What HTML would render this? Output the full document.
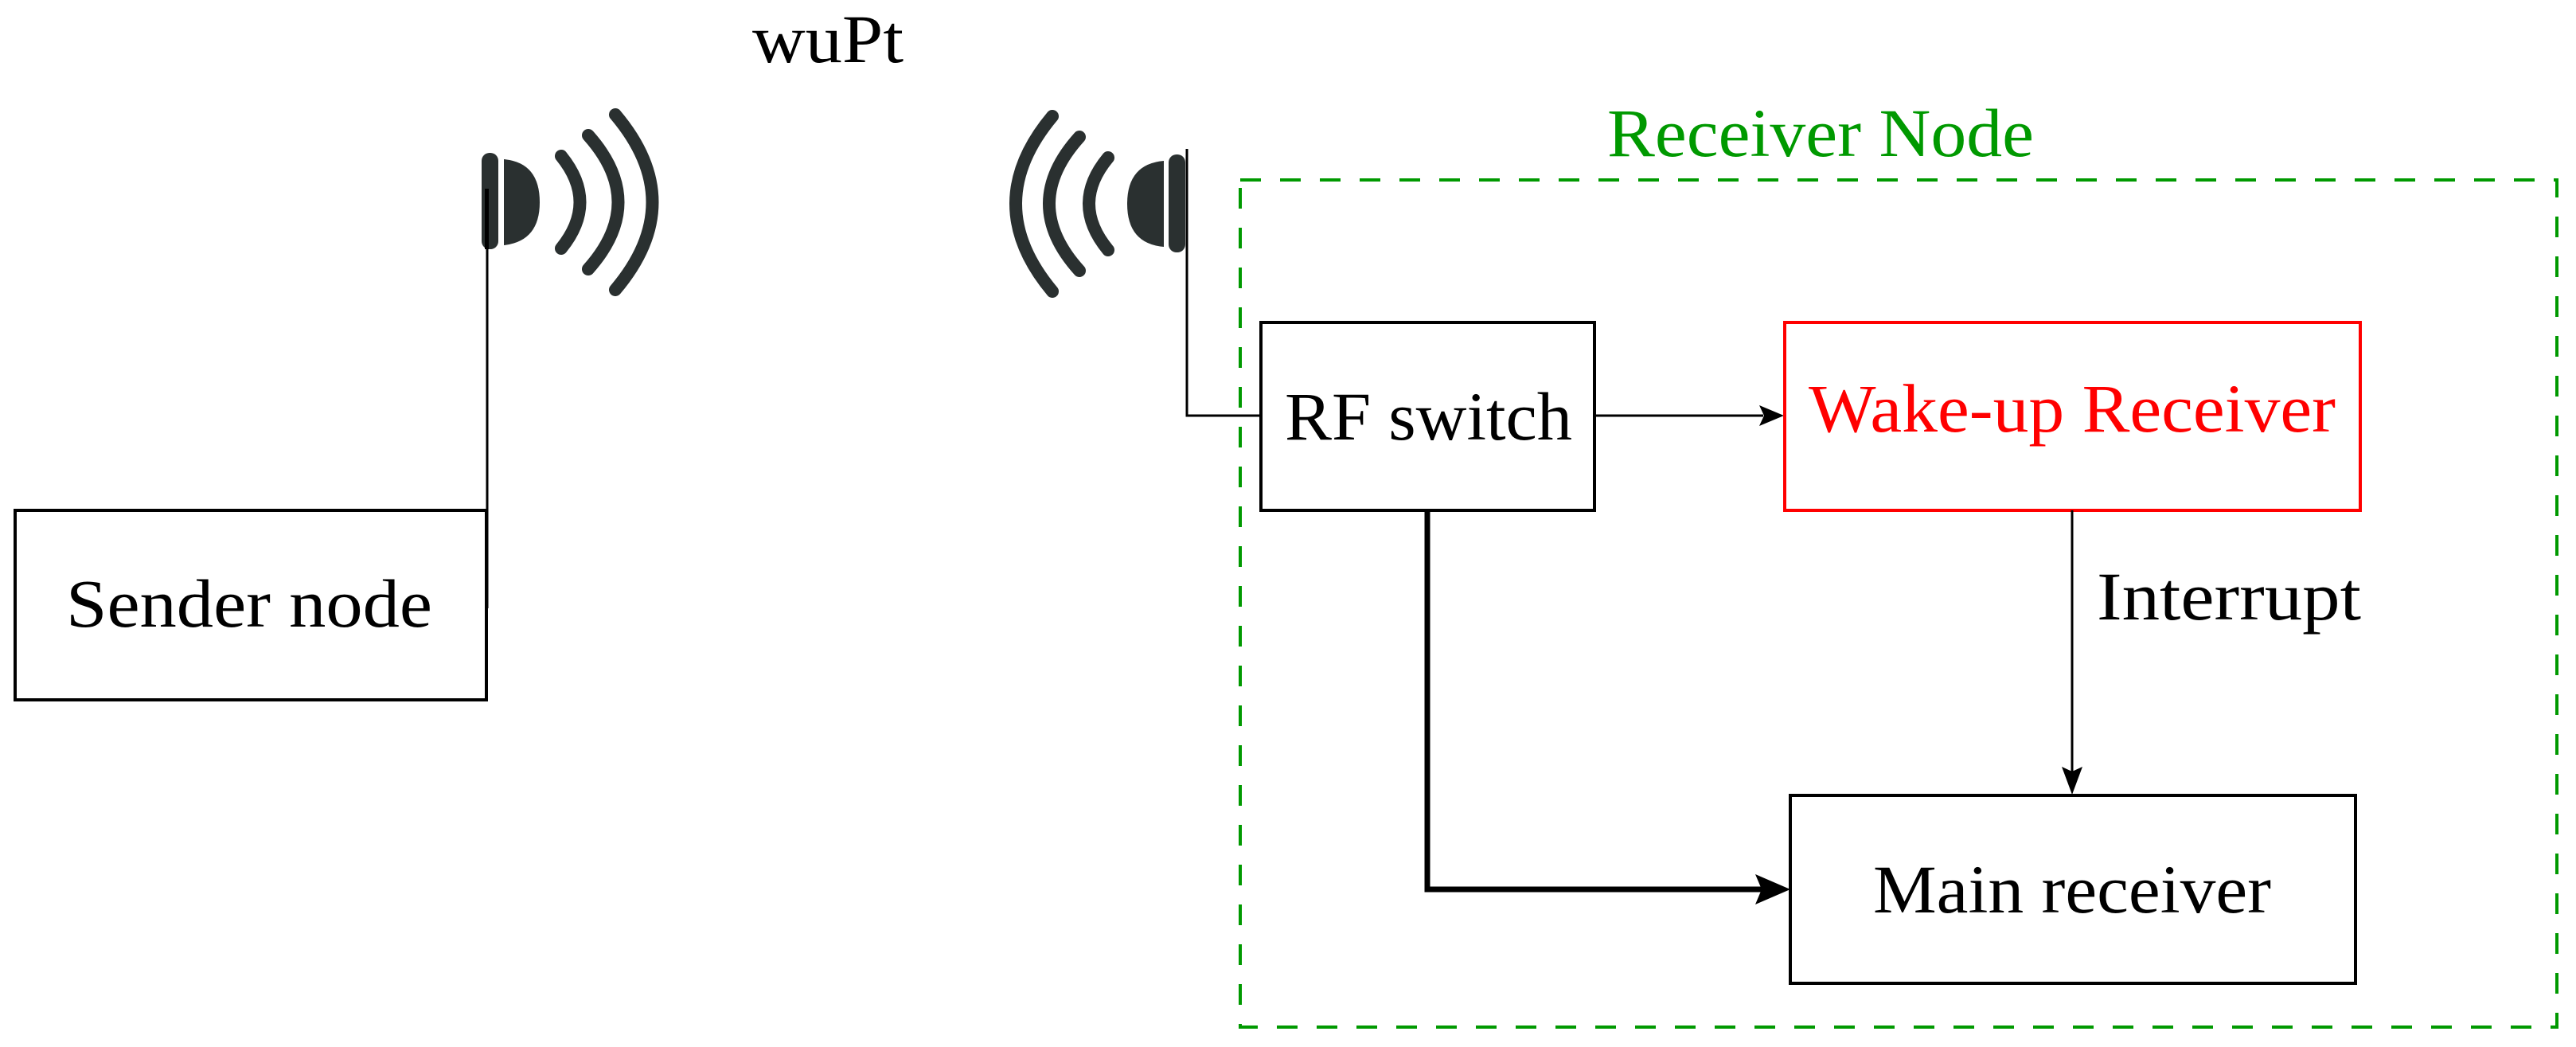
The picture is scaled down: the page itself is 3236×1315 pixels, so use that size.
<!DOCTYPE html>
<html><head><meta charset="utf-8"><style>
html,body{margin:0;padding:0;background:#fff;}
svg{display:block;}
text{font-family:"Liberation Serif",serif;}
</style></head><body>
<svg width="3236" height="1315" viewBox="0 0 3236 1315" xmlns="http://www.w3.org/2000/svg">
<!-- Sender node -->
<rect x="19" y="641" width="592" height="238" fill="none" stroke="#000" stroke-width="4"/>
<text x="83" y="787" font-size="86" textLength="460" lengthAdjust="spacingAndGlyphs">Sender node</text>
<line x1="612" y1="237" x2="612" y2="764" stroke="#000" stroke-width="3"/>
<!-- left antenna -->
<g fill="#2a3030" stroke="none">
<rect x="605" y="192" width="21" height="121" rx="10"/>
<path d="M633 200 Q678 204 678 254 Q678 303 633 308 Z"/>
</g>
<rect x="609" y="237" width="5" height="76" fill="#000"/>
<g fill="none" stroke="#2a3030" stroke-width="16" stroke-linecap="round">
<path d="M705 196 Q752 254 705 312"/>
<path d="M739 170 Q814 254 739 338"/>
<path d="M773 144 Q866 254 773 364"/>
</g>
<!-- right antenna -->
<g fill="#2a3030" stroke="none">
<rect x="1468" y="194" width="21" height="123" rx="10"/>
<path d="M1462 202 Q1416 206 1416 256 Q1416 306 1462 310 Z"/>
</g>
<g fill="none" stroke="#2a3030" stroke-width="16" stroke-linecap="round">
<path d="M1392 198 Q1344 256 1392 314"/>
<path d="M1356 172 Q1280 256 1356 340"/>
<path d="M1322 146 Q1230 256 1322 366"/>
</g>
<polyline points="1491,187 1491,522 1583,522" fill="none" stroke="#000" stroke-width="3"/>
<!-- wuPt -->
<text x="945" y="78" font-size="86" textLength="190" lengthAdjust="spacingAndGlyphs">wuPt</text>
<!-- Receiver node dashed -->
<rect x="1558" y="226" width="1654" height="1064" fill="none" stroke="#009900" stroke-width="4" stroke-dasharray="26,24"/>
<text x="2019" y="196" font-size="86" fill="#009900" textLength="536" lengthAdjust="spacingAndGlyphs">Receiver Node</text>
<!-- RF switch -->
<rect x="1584" y="405" width="419" height="236" fill="none" stroke="#000" stroke-width="4"/>
<text x="1614" y="552" font-size="86" textLength="361" lengthAdjust="spacingAndGlyphs">RF switch</text>
<!-- arrow RF -> WuR -->
<line x1="2003" y1="522" x2="2215" y2="522" stroke="#000" stroke-width="3"/>
<polygon points="2241,522 2210,509 2216,522 2210,535" fill="#000"/>
<!-- WuR -->
<rect x="2242" y="405" width="723" height="236" fill="none" stroke="#ff0000" stroke-width="4"/>
<text x="2272" y="542" font-size="86" fill="#ff0000" textLength="662" lengthAdjust="spacingAndGlyphs">Wake-up Receiver</text>
<!-- interrupt -->
<line x1="2603" y1="641" x2="2603" y2="975" stroke="#000" stroke-width="3"/>
<polygon points="2603,998 2590,963 2603,969 2616,963" fill="#000"/>
<text x="2634" y="778" font-size="86" textLength="332" lengthAdjust="spacingAndGlyphs">Interrupt</text>
<!-- Main receiver -->
<rect x="2249" y="999" width="710" height="236" fill="none" stroke="#000" stroke-width="4"/>
<text x="2353" y="1146" font-size="86" textLength="500" lengthAdjust="spacingAndGlyphs">Main receiver</text>
<!-- thick connector -->
<polyline points="1793,641 1793,1117 2220,1117" fill="none" stroke="#000" stroke-width="7"/>
<polygon points="2249,1117 2205,1098 2213,1117 2205,1136" fill="#000"/>
</svg>
</body></html>
